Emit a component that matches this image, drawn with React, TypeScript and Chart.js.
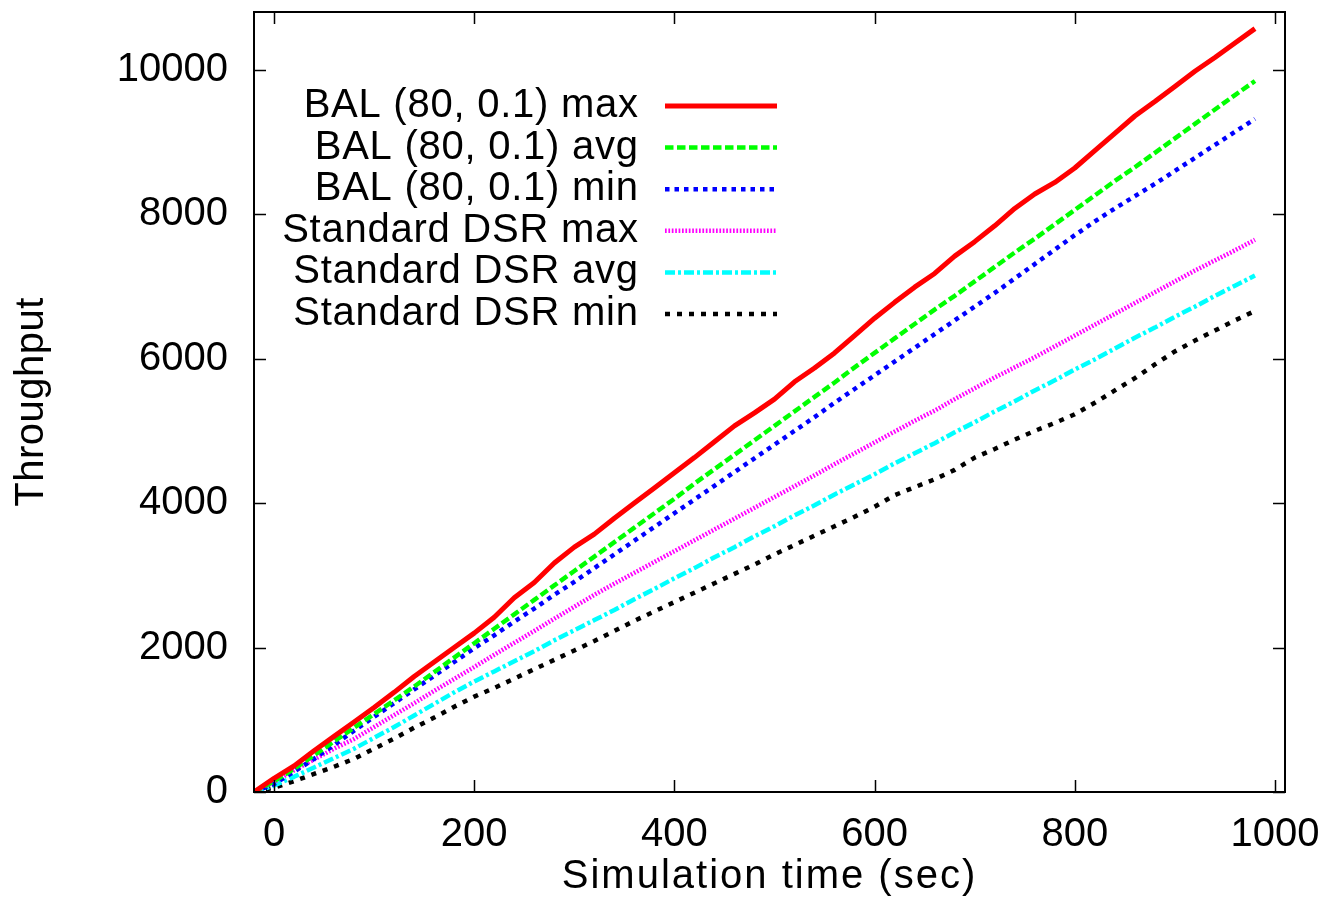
import React, { useEffect, useRef } from "react";
import { Chart, registerables } from "chart.js";

Chart.register(...registerables);

// Simulation time (sec)
const times = [
  -20, 0, 20, 40, 60, 80, 100, 120, 140, 160, 180, 200, 220, 240, 260, 280, 300, 320, 340, 360,
  380, 400, 420, 440, 460, 480, 500, 520, 540, 560, 580, 600, 620, 640, 660, 680, 700, 720, 740,
  760, 780, 800, 820, 840, 860, 880, 900, 920, 940, 960, 980,
];

const balMax = [
  0, 190, 360, 570, 770, 970, 1170, 1380, 1600, 1800, 2000, 2200, 2420, 2690, 2900, 3170, 3390,
  3570, 3790, 4000, 4210, 4420, 4630, 4850, 5070, 5250, 5440, 5680, 5870, 6080, 6320, 6560, 6780,
  6990, 7180, 7420, 7620, 7840, 8080, 8280, 8440, 8640, 8880, 9120, 9360, 9560, 9770, 9980, 10170,
  10370, 10570,
];

const balAvg = [
  0, 150, 320, 510, 700, 890, 1080, 1270, 1460, 1660, 1860, 2060, 2260, 2460, 2660, 2860, 3060,
  3260, 3460, 3660, 3860, 4060, 4270, 4470, 4670, 4870, 5070, 5270, 5470, 5670, 5880, 6080, 6280,
  6480, 6680, 6870, 7070, 7270, 7470, 7660, 7860, 8060, 8260, 8460, 8650, 8850, 9050, 9250, 9450,
  9650, 9845,
];

const balMin = [
  0, 110, 280, 460, 650, 850, 1040, 1230, 1420, 1610, 1800, 1990, 2170, 2360, 2540, 2730, 2910,
  3100, 3290, 3480, 3670, 3860, 4050, 4240, 4430, 4620, 4810, 5000, 5190, 5390, 5580, 5770, 5960,
  6150, 6340, 6530, 6720, 6910, 7110, 7310, 7510, 7710, 7900, 8080, 8250, 8420, 8600, 8780, 8960,
  9140, 9320,
];

const dsrMax = [
  0, 140, 300, 450, 600, 735, 900, 1065, 1230, 1400, 1565, 1730, 1900, 2065, 2230, 2400, 2565,
  2730, 2885, 3035, 3185, 3335, 3485, 3635, 3785, 3935, 4085, 4235, 4385, 4540, 4690, 4840, 4990,
  5140, 5280, 5440, 5590, 5740, 5880, 6020, 6170, 6320, 6470, 6620, 6770, 6920, 7070, 7220, 7360,
  7500, 7645,
];

const dsrAvg = [
  0, 90, 210, 340, 470, 600, 750, 900, 1060, 1220, 1380, 1530, 1670, 1810, 1950, 2100, 2240, 2380,
  2520, 2670, 2810, 2960, 3100, 3250, 3390, 3540, 3680, 3830, 3970, 4120, 4260, 4400, 4550, 4690,
  4830, 4980, 5120, 5270, 5410, 5560, 5700, 5850, 5990, 6140, 6290, 6430, 6580, 6720, 6870, 7010,
  7150,
];

const dsrMin = [
  0, 60, 150, 250, 350, 460, 600, 740, 890, 1030, 1180, 1320, 1440, 1570, 1700, 1830, 1960, 2090,
  2230, 2370, 2500, 2630, 2760, 2890, 3020, 3150, 3290, 3420, 3550, 3680, 3810, 3950, 4110, 4220,
  4330, 4460, 4630, 4750, 4880, 5000, 5110, 5230, 5390, 5560, 5730, 5920, 6100, 6250, 6390, 6530,
  6660,
];

const seriesLabels = [
  "BAL (80, 0.1) max",
  "BAL (80, 0.1) avg",
  "BAL (80, 0.1) min",
  "Standard DSR max",
  "Standard DSR avg",
  "Standard DSR min",
];

const xTicks = [0, 200, 400, 600, 800, 1000];
const yTicks = [0, 2000, 4000, 6000, 8000, 10000];

const FONT = "'Liberation Sans', Arial, Helvetica, sans-serif";

const toPoints = (vals: number[]) => times.map((t, i) => ({ x: t, y: vals[i] }));

const zeroPadding = (scale: any) => {
  scale.paddingTop = 0;
  scale.paddingBottom = 0;
  scale.paddingLeft = 0;
  scale.paddingRight = 0;
};

const spacingPlugin = {
  id: "titleSpacing",
  beforeDraw(chart: any) {
    const wrap = (scale: any, spacing: string) => {
      if (!scale || scale.__wrapped) return;
      const orig = scale.drawTitle;
      scale.drawTitle = function (...args: any[]) {
        const ctx = this.ctx;
        const prev = ctx.letterSpacing;
        ctx.letterSpacing = spacing;
        orig.apply(this, args);
        ctx.letterSpacing = prev || "0px";
      };
      scale.__wrapped = true;
    };
    wrap(chart.scales.x, "2px");
    wrap(chart.scales.y, "0.5px");
  },
};

const frameTicksPlugin = {
  id: "frameTicks",
  afterDatasetsDraw(chart: any) {
    const { ctx, chartArea: a, scales } = chart;
    const x = scales.x;
    const y = scales.y;
    const L = 12;
    ctx.save();
    ctx.strokeStyle = "#000";
    ctx.lineWidth = 1.5;
    ctx.setLineDash([]);
    ctx.beginPath();
    for (const v of xTicks) {
      const px = Math.round(x.getPixelForValue(v)) + 0.5;
      ctx.moveTo(px, a.bottom);
      ctx.lineTo(px, a.bottom - L);
      ctx.moveTo(px, a.top);
      ctx.lineTo(px, a.top + L);
    }
    for (const v of yTicks) {
      const py = Math.round(y.getPixelForValue(v)) + 0.5;
      ctx.moveTo(a.left, py);
      ctx.lineTo(a.left + L, py);
      ctx.moveTo(a.right, py);
      ctx.lineTo(a.right - L, py);
    }
    ctx.stroke();
    ctx.lineWidth = 2;
    ctx.strokeRect(a.left, a.top, a.right - a.left, a.bottom - a.top);
    ctx.restore();
  },
};

const legendPlugin = {
  id: "gnuLegend",
  afterDraw(chart: any) {
    const ctx = chart.ctx;
    ctx.save();
    chart.data.datasets.forEach((ds: any, i: number) => {
      const yy = 106 + i * 41.6;
      ctx.font = `40px ${FONT}`;
      ctx.letterSpacing = "0.75px";
      ctx.textAlign = "right";
      ctx.textBaseline = "middle";
      ctx.fillStyle = "#000";
      ctx.fillText(ds.label, 638.75, yy);
      ctx.letterSpacing = "0px";
      ctx.strokeStyle = ds.borderColor;
      ctx.lineWidth = ds.borderWidth;
      ctx.setLineDash(ds.borderDash || []);
      ctx.lineCap = "butt";
      ctx.beginPath();
      ctx.moveTo(665, yy);
      ctx.lineTo(777, yy);
      ctx.stroke();
    });
    ctx.restore();
  },
};

export default function App() {
  const canvasRef = useRef<HTMLCanvasElement | null>(null);

  useEffect(() => {
    const canvas = canvasRef.current;
    if (!canvas) return;
    const styles = [
      { color: "#ff0000", width: 5, dash: [] as number[] },
      { color: "#00ff00", width: 4.5, dash: [8.5, 3.5] },
      { color: "#0000ff", width: 4.5, dash: [4.5, 5] },
      { color: "#ff00ff", width: 4.5, dash: [1.7, 1.7] },
      { color: "#00ffff", width: 4.5, dash: [10, 3, 3, 3] },
      { color: "#000000", width: 4.5, dash: [5, 7] },
    ];
    const series = [balMax, balAvg, balMin, dsrMax, dsrAvg, dsrMin];
    const chart = new Chart(canvas, {
      type: "line",
      data: {
        datasets: series.map((s, i) => ({
          label: seriesLabels[i],
          data: toPoints(s),
          borderColor: styles[i].color,
          backgroundColor: styles[i].color,
          borderWidth: styles[i].width,
          borderDash: styles[i].dash,
          borderJoinStyle: "round",
          pointRadius: 0,
          tension: 0,
          fill: false,
        })),
      },
      options: {
        responsive: false,
        animation: false,
        devicePixelRatio: 1,
        layout: { padding: { left: 0, top: 12, right: 42, bottom: 0 } },
        plugins: {
          legend: { display: false },
          tooltip: { enabled: false },
        },
        scales: {
          x: {
            type: "linear",
            min: -20,
            max: 1010,
            grid: { display: false, drawTicks: false },
            border: { display: false },
            afterBuildTicks: (scale: any) => {
              scale.ticks = xTicks.map((v) => ({ value: v }));
            },
            afterFit: (scale: any) => {
              scale.height = 128;
              zeroPadding(scale);
            },
            ticks: {
              padding: 19,
              maxRotation: 0,
              autoSkip: false,
              color: "#000",
              font: { family: FONT, size: 40 },
              callback: (v: any) => String(v),
            },
            title: {
              display: true,
              text: "Simulation time (sec)",
              color: "#000",
              font: { family: FONT, size: 40 },
              padding: { top: 0, bottom: 19 },
            },
          },
          y: {
            type: "linear",
            min: 0,
            max: 10800,
            grid: { display: false, drawTicks: false },
            border: { display: false },
            afterBuildTicks: (scale: any) => {
              scale.ticks = yTicks.map((v) => ({ value: v }));
            },
            afterFit: (scale: any) => {
              scale.width = 254;
              zeroPadding(scale);
            },
            ticks: {
              padding: 26,
              autoSkip: false,
              color: "#000",
              font: { family: FONT, size: 40 },
              callback: (v: any) => String(v),
            },
            title: {
              display: true,
              text: "Throughput",
              color: "#000",
              font: { family: FONT, size: 40 },
              padding: { top: 8, bottom: 0 },
            },
          },
        },
      },
      plugins: [spacingPlugin, frameTicksPlugin, legendPlugin],
    } as any);
    return () => chart.destroy();
  }, []);

  return (
    <div style={{ position: "absolute", left: 0, top: 0, width: 1327, height: 920, background: "#fff" }}>
      <canvas ref={canvasRef} width={1327} height={920} style={{ display: "block" }} />
    </div>
  );
}
